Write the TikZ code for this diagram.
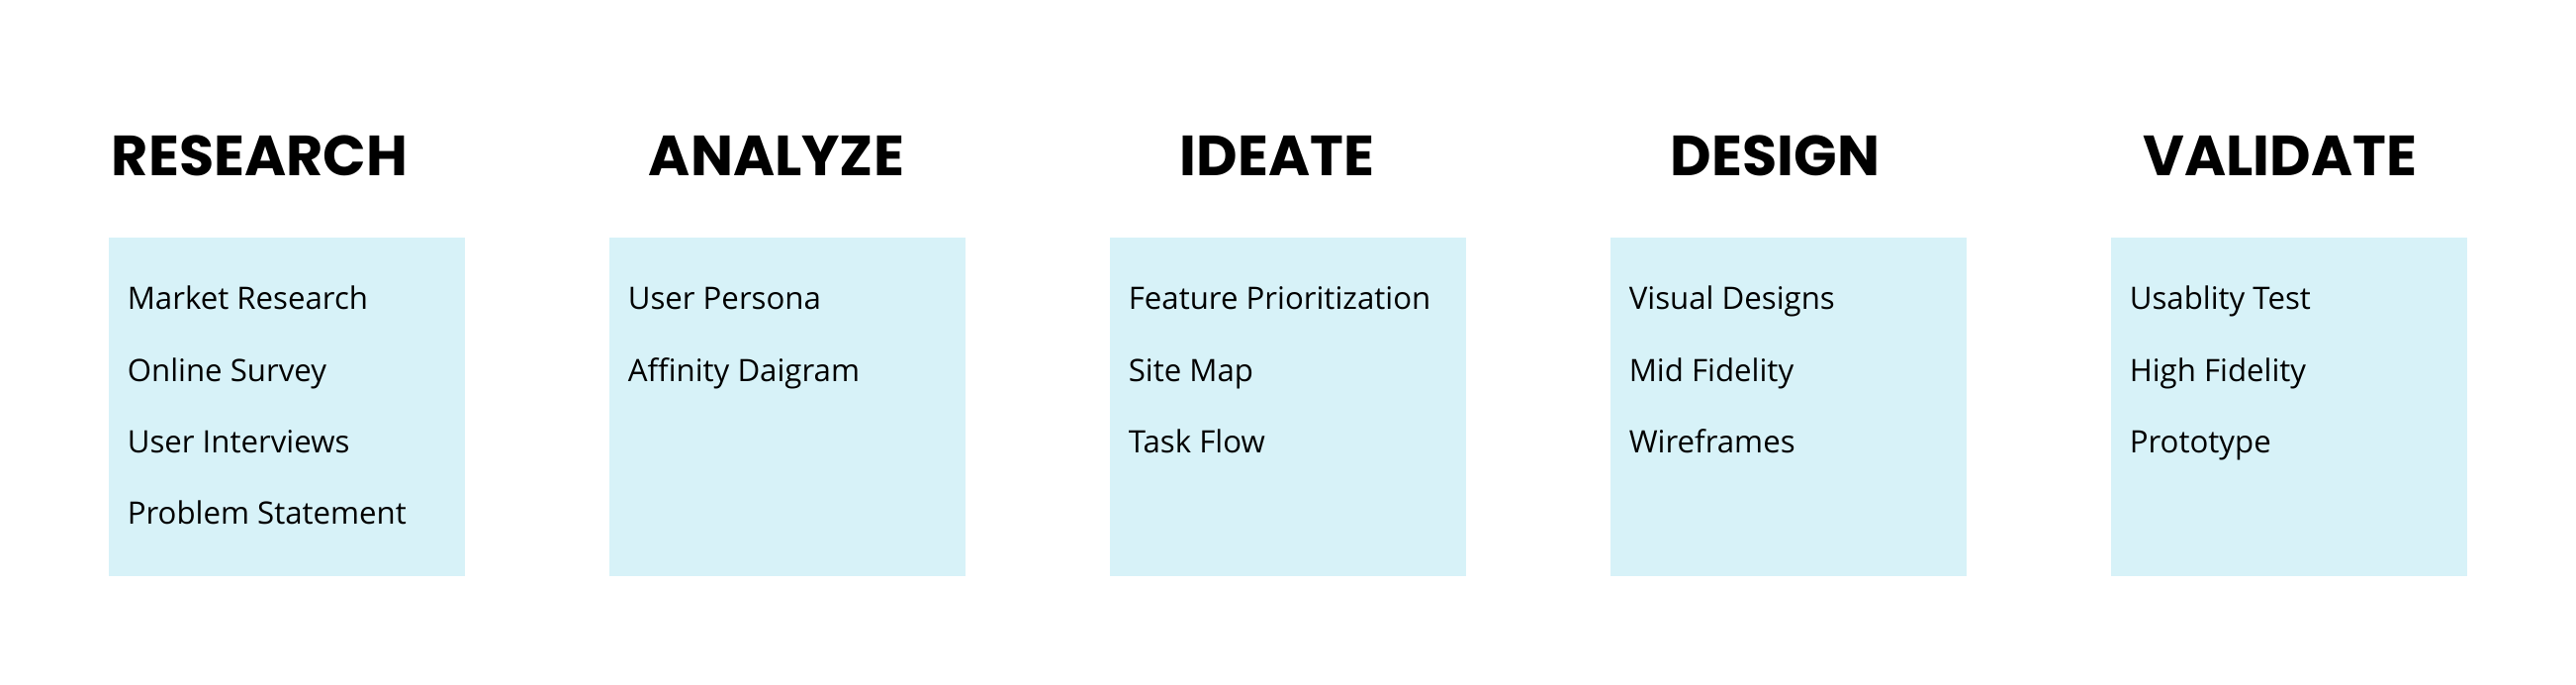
\documentclass[tikz,border=0pt]{standalone}
\usepackage{fontspec}
\setmainfont{Open Sans}
\newfontfamily\headfont{Poppins}
\definecolor{boxfill}{HTML}{D7F2F8}
\tikzset{
  phase/.style={fill=boxfill, draw=none},
  heading/.style={anchor=base, inner sep=0pt, font=\headfont\fontsize{14.3pt}{16pt}\selectfont\bfseries},
  item/.style={anchor=base west, inner sep=0pt, font=\fontsize{7.8pt}{9pt}\selectfont}
}
\begin{document}
\begin{tikzpicture}[x=0.25pt,y=-0.25pt]
\useasboundingbox[fill=white] (0,0) rectangle (2604,692);
% boxes
\foreach \i/\l in {1/110,2/616,3/1122,4/1628,5/2134}{
  \path[phase] (\l,240) rectangle ++(360,342) coordinate (b\i);
}
% headings
\node[heading] (t1) at (262.5,178) {RESEARCH};
\node[heading] (t2) at (785,178) {ANALYZE};
\node[heading] (t3) at (1291,178) {IDEATE};
\node[heading] (t4) at (1794.5,178) {DESIGN};
\node[heading] (t5) at (2305,178) {VALIDATE};
% items
\node[item] (r1) at (128,313) {Market Research};
\node[item] (r2) at (128,386) {Online Survey};
\node[item] (r3) at (128,458) {User Interviews};
\node[item] (r4) at (128,530) {Problem Statement};
\node[item] (a1) at (634,313) {User Persona};
\node[item] (a2) at (634,386) {Affinity Daigram};
\node[item] (i1) at (1140,313) {Feature Prioritization};
\node[item] (i2) at (1140,386) {Site Map};
\node[item] (i3) at (1140,458) {Task Flow};
\node[item] (d1) at (1646,313) {Visual Designs};
\node[item] (d2) at (1646,386) {Mid Fidelity};
\node[item] (d3) at (1646,458) {Wireframes};
\node[item] (v1) at (2152,313) {Usablity Test};
\node[item] (v2) at (2152,386) {High Fidelity};
\node[item] (v3) at (2152,458) {Prototype};
\end{tikzpicture}
\end{document}
